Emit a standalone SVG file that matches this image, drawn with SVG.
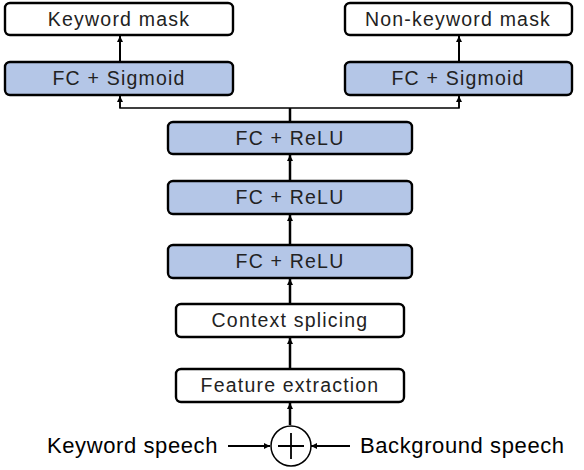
<svg xmlns="http://www.w3.org/2000/svg" width="584" height="470" viewBox="0 0 584 470">
<defs>
<marker id="ah" viewBox="0 0 10 10" refX="10" refY="5" markerWidth="6" markerHeight="6" markerUnits="userSpaceOnUse" orient="auto">
<path d="M0,0 L10,5 L0,10 z" fill="#000"/>
</marker>
<style>
.box{stroke:#000;stroke-width:2.4;}
.w{fill:#fff;}
.b{fill:#b4c6e7;}
.lbl{font-family:"Liberation Sans",Arial,sans-serif;font-size:19.5px;letter-spacing:1.2px;fill:#222;text-anchor:middle;}
.big{font-family:"Liberation Sans",Arial,sans-serif;font-size:22px;letter-spacing:0.6px;fill:#000;}
.c{stroke:#000;fill:none;}
</style>
</defs>
<rect width="584" height="470" fill="#fff"/>
<g id="connectors">
<line class="c" x1="290" y1="425" x2="290" y2="403" stroke-width="2.5" marker-end="url(#ah)"/>
<line class="c" x1="290" y1="369" x2="290" y2="338" stroke-width="2.5" marker-end="url(#ah)"/>
<line class="c" x1="290" y1="304" x2="290" y2="279" stroke-width="2.5" marker-end="url(#ah)"/>
<line class="c" x1="290" y1="245" x2="290" y2="215" stroke-width="2.5" marker-end="url(#ah)"/>
<line class="c" x1="290" y1="181" x2="290" y2="155" stroke-width="2.5" marker-end="url(#ah)"/>
<line class="c" x1="290" y1="122" x2="290" y2="108" stroke-width="2.5"/>
<polyline class="c" points="120,96 120,108 459,108 459,96" stroke-width="1.5"/>
<line class="c" x1="120" y1="108" x2="120" y2="96" stroke-width="1.5" marker-end="url(#ah)"/>
<line class="c" x1="459" y1="108" x2="459" y2="96" stroke-width="1.5" marker-end="url(#ah)"/>
<line class="c" x1="120" y1="62" x2="120" y2="36" stroke-width="2" marker-end="url(#ah)"/>
<line class="c" x1="459" y1="62" x2="459" y2="36" stroke-width="2" marker-end="url(#ah)"/>
<line class="c" x1="228" y1="446" x2="270" y2="446" stroke-width="2" marker-end="url(#ah)"/>
<line class="c" x1="350" y1="446" x2="311" y2="446" stroke-width="2" marker-end="url(#ah)"/>
</g>
<g id="kw_mask"><rect class="box w" x="5" y="3" width="228" height="32" rx="5"/><text class="lbl" x="119" y="26">Keyword mask</text></g>
<g id="kw_sig"><rect class="box b" x="5" y="62" width="228" height="33" rx="5"/><text class="lbl" x="119" y="85">FC + Sigmoid</text></g>
<g id="nk_mask"><rect class="box w" x="345" y="3" width="227" height="32" rx="5"/><text class="lbl" x="458" y="26">Non-keyword mask</text></g>
<g id="nk_sig"><rect class="box b" x="345" y="62" width="227" height="33" rx="5"/><text class="lbl" x="458" y="85">FC + Sigmoid</text></g>
<g id="relu1"><rect class="box b" x="168" y="122" width="244" height="32" rx="5"/><text class="lbl" x="290" y="145">FC + ReLU</text></g>
<g id="relu2"><rect class="box b" x="168" y="181" width="244" height="33" rx="5"/><text class="lbl" x="290" y="204">FC + ReLU</text></g>
<g id="relu3"><rect class="box b" x="168" y="245" width="244" height="33" rx="5"/><text class="lbl" x="290" y="268">FC + ReLU</text></g>
<g id="ctx"><rect class="box w" x="176" y="304" width="228" height="33" rx="5"/><text class="lbl" x="290" y="327">Context splicing</text></g>
<g id="feat"><rect class="box w" x="176" y="369" width="228" height="33" rx="5"/><text class="lbl" x="290" y="392">Feature extraction</text></g>
<g id="sum"><circle cx="291" cy="446" r="20" fill="#fff" stroke="#000" stroke-width="1.5"/><path d="M278,446 H304 M291,433 V459" stroke="#000" stroke-width="1.8"/></g>
<g id="kw_speech"><text class="big" x="47" y="453">Keyword speech</text></g>
<g id="bg_speech"><text class="big" x="360" y="453">Background speech</text></g>
</svg>
